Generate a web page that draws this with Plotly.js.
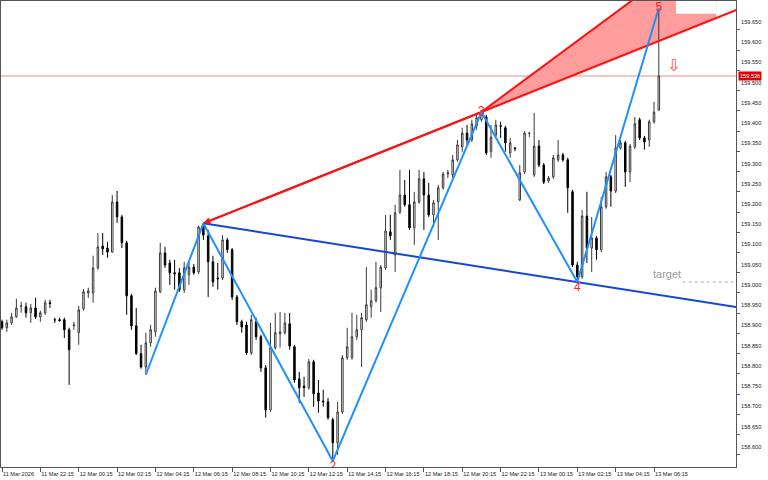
<!DOCTYPE html>
<html><head><meta charset="utf-8">
<script src="https://cdn.plot.ly/plotly-3.0.1.min.js"></script>
<style>html,body{margin:0;padding:0;background:#fff}#chart{width:768px;height:480px}</style>
</head><body><div id="chart"></div>
<script>
// M15 bars, 11 Mar 2026 20:15 -> 13 Mar 2026 06:30
const open = [
158.929,158.914,158.926,158.941,158.967,158.966,158.951,158.963,158.941,158.951,
158.976,158.934,158.934,158.934,158.909,158.919,158.902,158.961,159.000,159.000,
159.062,159.116,159.111,159.101,159.225,159.188,159.124,158.993,158.919,158.850,
158.817,158.877,158.904,159.003,159.099,159.074,159.050,159.050,159.008,159.045,
159.064,159.052,159.163,159.141,159.077,159.037,159.037,159.131,159.107,158.990,
158.929,158.921,158.852,158.929,158.892,158.815,158.711,158.865,158.899,158.902,
158.924,158.867,158.788,158.770,158.766,158.830,158.753,158.733,158.731,158.687,
158.630,158.706,158.840,158.840,158.892,158.909,158.934,158.966,158.981,159.013,
159.062,159.151,159.094,159.200,159.242,159.218,159.161,159.225,159.282,159.242,
159.193,159.225,159.260,159.294,159.292,159.329,159.361,159.395,159.378,159.413,
159.428,159.435,159.349,159.390,159.413,159.408,159.346,159.358,159.230,159.299,
159.395,159.292,159.363,159.316,159.277,159.287,159.329,159.341,159.329,159.250,
159.069,159.040,159.190,159.111,159.136,159.107,159.213,159.287,159.252,159.358,
159.371,159.299,159.361,159.428,159.383,159.378,159.423,159.452];
const high = [
158.934,158.934,158.951,158.986,158.978,158.976,158.973,158.988,158.956,158.983,
158.983,158.939,158.939,158.939,158.914,158.929,158.968,159.010,159.013,159.092,
159.148,159.148,159.126,159.242,159.252,159.193,159.129,158.998,158.963,158.872,
158.902,158.921,159.013,159.124,159.114,159.082,159.082,159.062,159.077,159.077,
159.072,159.166,159.171,159.156,159.092,159.074,159.143,159.136,159.111,158.995,
158.934,158.929,158.946,158.939,158.897,158.822,158.926,158.951,158.953,158.951,
158.951,158.872,158.805,158.793,158.837,158.835,158.785,158.761,158.741,158.692,
158.731,158.847,158.914,158.951,158.946,158.951,159.064,159.008,159.077,159.069,
159.193,159.193,159.218,159.304,159.279,159.304,159.250,159.304,159.299,159.272,
159.230,159.267,159.299,159.304,159.341,159.378,159.408,159.415,159.428,159.442,
159.447,159.440,159.415,159.428,159.423,159.413,159.383,159.361,159.316,159.400,
159.396,159.445,159.378,159.321,159.289,159.341,159.378,159.346,159.334,159.255,
159.077,159.205,159.250,159.188,159.141,159.237,159.299,159.292,159.390,159.378,
159.376,159.368,159.435,159.433,159.388,159.428,159.472,159.704];
const low = [
158.909,158.904,158.921,158.939,158.951,158.939,158.926,158.936,158.929,158.946,
158.963,158.926,158.929,158.889,158.773,158.909,158.872,158.956,158.988,158.976,
159.057,159.094,159.087,159.099,159.173,159.111,158.946,158.909,158.847,158.813,
158.798,158.867,158.892,159.000,159.062,159.020,159.008,159.003,159.000,159.020,
159.045,159.047,159.131,158.990,159.015,159.008,159.032,159.099,158.983,158.921,
158.902,158.847,158.847,158.884,158.805,158.692,158.706,158.860,158.865,158.897,
158.860,158.778,158.728,158.743,158.761,158.719,158.704,158.719,158.687,158.585,
158.600,158.701,158.835,158.835,158.884,158.817,158.929,158.939,158.976,158.953,
159.057,159.131,159.052,159.195,159.213,159.156,159.119,159.220,159.156,159.188,
159.163,159.131,159.255,159.284,159.284,159.324,159.349,159.366,159.373,159.403,
159.423,159.341,159.334,159.385,159.383,159.349,159.334,159.350,159.227,159.294,
159.385,159.287,159.311,159.269,159.272,159.282,159.324,159.324,159.198,159.064,
159.027,159.035,159.074,159.052,159.082,159.101,159.208,159.213,159.247,159.354,
159.262,159.274,159.356,159.378,159.354,159.361,159.418,159.450];
const close = [
158.914,158.926,158.941,158.963,158.968,158.951,158.963,158.941,158.951,158.976,
158.974,158.933,158.932,158.909,158.860,158.921,158.958,159.003,159.005,159.062,
159.114,159.109,159.101,159.225,159.188,159.124,158.993,158.919,158.850,158.817,
158.877,158.909,159.005,159.099,159.069,159.050,159.047,159.008,159.062,159.064,
159.050,159.163,159.143,159.077,159.027,159.035,159.131,159.107,158.990,158.929,
158.916,158.852,158.934,158.892,158.815,158.711,158.865,158.902,158.904,158.926,
158.869,158.785,158.766,158.766,158.830,158.751,158.733,158.731,158.692,158.630,
158.706,158.840,158.867,158.892,158.909,158.939,158.971,158.981,159.013,159.064,
159.153,159.141,159.198,159.242,159.218,159.161,159.225,159.282,159.242,159.193,
159.223,159.260,159.294,159.297,159.329,159.366,159.395,159.378,159.418,159.433,
159.442,159.346,159.385,159.415,159.412,159.371,159.371,159.357,159.297,159.395,
159.395,159.363,159.316,159.274,159.284,159.334,159.341,159.329,159.260,159.069,
159.040,159.190,159.111,159.136,159.107,159.213,159.287,159.252,159.358,159.371,
159.299,159.363,159.418,159.383,159.373,159.423,159.447,159.536];

const tickIndex = [0,8,16,24,32,40,48,56,64,72,80,88,96,104,112,120,128,136];
const tickLabels = ["11 Mar 2026","11 Mar 22:15","12 Mar 00:15","12 Mar 02:15","12 Mar 04:15",
  "12 Mar 06:15","12 Mar 08:15","12 Mar 10:15","12 Mar 12:15","12 Mar 14:15","12 Mar 16:15",
  "12 Mar 18:15","12 Mar 20:15","12 Mar 22:15","13 Mar 00:15","13 Mar 02:15","13 Mar 04:15","13 Mar 06:15"];
const priceTicks = [158.60,158.65,158.70,158.75,158.80,158.85,158.90,158.95,159.00,
  159.05,159.10,159.15,159.20,159.25,159.30,159.35,159.40,159.45,159.50,159.55,159.60,159.65];

// wave pivots (start, 1..5)
const waveIndex = [30,42,69,100,120,137];
const wavePrice = [158.798,159.172,158.585,159.447,159.027,159.704];
const waveLabels = ["","","2","3","4","5"];
const bidPrice = 159.536;
const targetPrice = 159.027;
const targetStart = 142;
const zoneEndIndex = 149;
const zoneTopPrice = 159.877;
const boxStartIndex = 140.6;
const boxLowPrice = 159.690;
const arrowIndex = 140;
const arrowPrice = 159.561;

const barIndex = open.map((_, i) => i);
const xView = [-0.21, 153.1];
const yView = [158.5701, 159.7213];

const P = k => ({i: waveIndex[k], p: wavePrice[k]});
const p1 = P(1), p3 = P(3), p4 = P(4);
const lineAt = (a, b, x) => a.p + (b.p - a.p) * (x - a.i) / (b.i - a.i);
const farX = xView[1] + 3;
const zoneLow = lineAt(p1, p3, zoneEndIndex);

const traces = [
  {type:'candlestick', x: barIndex, open, high, low, close, hoverinfo:'skip',
   increasing:{line:{color:'#3a3a3a', width:1}, fillcolor:'#ffffff'},
   decreasing:{line:{color:'#000000', width:1}, fillcolor:'#000000'},
   whiskerwidth:0, showlegend:false},
  {type:'scatter', mode:'lines', x:[p1.i, farX], y:[p1.p, lineAt(p1,p3,farX)],
   line:{color:'#ff1010', width:2}, hoverinfo:'skip', showlegend:false},
  {type:'scatter', mode:'lines', x:[p3.i, zoneEndIndex], y:[p3.p, zoneTopPrice],
   line:{color:'#ff1010', width:2}, hoverinfo:'skip', showlegend:false},
  {type:'scatter', mode:'lines', x:[p1.i, farX], y:[p1.p, lineAt(p1,p4,farX)],
   line:{color:'#1446d8', width:2}, hoverinfo:'skip', showlegend:false},
  {type:'scatter', mode:'lines', x: waveIndex, y: wavePrice,
   line:{color:'#1e90ff', width:2}, hoverinfo:'skip', showlegend:false},
  {type:'scatter', mode:'lines', x:[targetStart, farX], y:[targetPrice, targetPrice],
   line:{color:'#aaaaaa', width:1, dash:'dot'}, hoverinfo:'skip', showlegend:false},
  {type:'scatter', mode:'text', x: waveIndex.slice(2), y: wavePrice.slice(2),
   text: waveLabels.slice(2), cliponaxis:true,
   textposition:['bottom center','middle center','bottom center','middle center'],
   textfont:{family:'Liberation Sans, Arial', size:12, color:'#ff2020'},
   hoverinfo:'skip', showlegend:false}
];

const axisFont = {family:'Liberation Sans, Arial', size:5.6, color:'#222'};
const layout = {
  width:768, height:480,
  margin:{l:1, r:32, t:1, b:13, pad:0},
  paper_bgcolor:'#ffffff', plot_bgcolor:'#ffffff',
  showlegend:false,
  boxgap:0.55,
  xaxis:{range:xView, showgrid:false, zeroline:false, showline:true, mirror:true,
    linecolor:'#555', linewidth:1, ticks:'outside', ticklen:4, tickcolor:'#555',
    tickvals:tickIndex, ticktext:tickLabels, ticklabelposition:'outside right', tickangle:0,
    ticklabelstandoff:1, tickfont:axisFont, rangeslider:{visible:false}, fixedrange:true},
  yaxis:{range:yView, side:'right', showgrid:false, zeroline:false, showline:true, mirror:true,
    linecolor:'#555', linewidth:1, ticks:'outside', ticklen:3, tickcolor:'#555',
    tickvals:priceTicks, tickformat:'.3f', ticklabelshift:-8, tickfont:axisFont, fixedrange:true},
  shapes:[
    {type:'path', xref:'x', yref:'y', layer:'below',
     path:`M ${p3.i},${p3.p} L ${zoneEndIndex},${zoneTopPrice} L ${zoneEndIndex},${zoneLow} Z`,
     fillcolor:'#ff9c9c', line:{width:0}},
    {type:'rect', xref:'x', yref:'y', layer:'below', x0:boxStartIndex, x1:zoneEndIndex,
     y0:boxLowPrice, y1:zoneTopPrice, fillcolor:'#ffffff', line:{width:0}},
    {type:'line', xref:'paper', yref:'y', x0:0, x1:1, y0:bidPrice, y1:bidPrice,
     line:{color:'#f08a8a', width:1}, layer:'below'}
  ],
  annotations:[
    {x:p1.i, y:p1.p, ax:p3.i, ay:p3.p, xref:'x', yref:'y', axref:'x', ayref:'y',
     text:'', showarrow:true, arrowhead:2, arrowsize:0.7, arrowwidth:2, arrowcolor:'#ff1010'},
    {xref:'paper', x:1, xanchor:'left', xshift:2, y:bidPrice, yref:'y', yanchor:'middle',
     text:bidPrice.toFixed(3), showarrow:false, bgcolor:'#dc0000', borderpad:1,
     font:{family:'Liberation Sans, Arial', size:5.6, color:'#ffffff'}},
    {x:targetStart, y:targetPrice, xref:'x', yref:'y', xanchor:'right', yanchor:'bottom',
     text:'target', showarrow:false, font:{family:'Liberation Sans, Arial', size:11, color:'#9a9a9a'}},
    {x:arrowIndex, y:arrowPrice, xref:'x', yref:'y', text:'⇩', showarrow:false,
     font:{family:'DejaVu Sans', size:16, color:'#ff4a4a'}}
  ]
};
Plotly.newPlot('chart', traces, layout, {staticPlot:true, displayModeBar:false});
</script></body></html>
